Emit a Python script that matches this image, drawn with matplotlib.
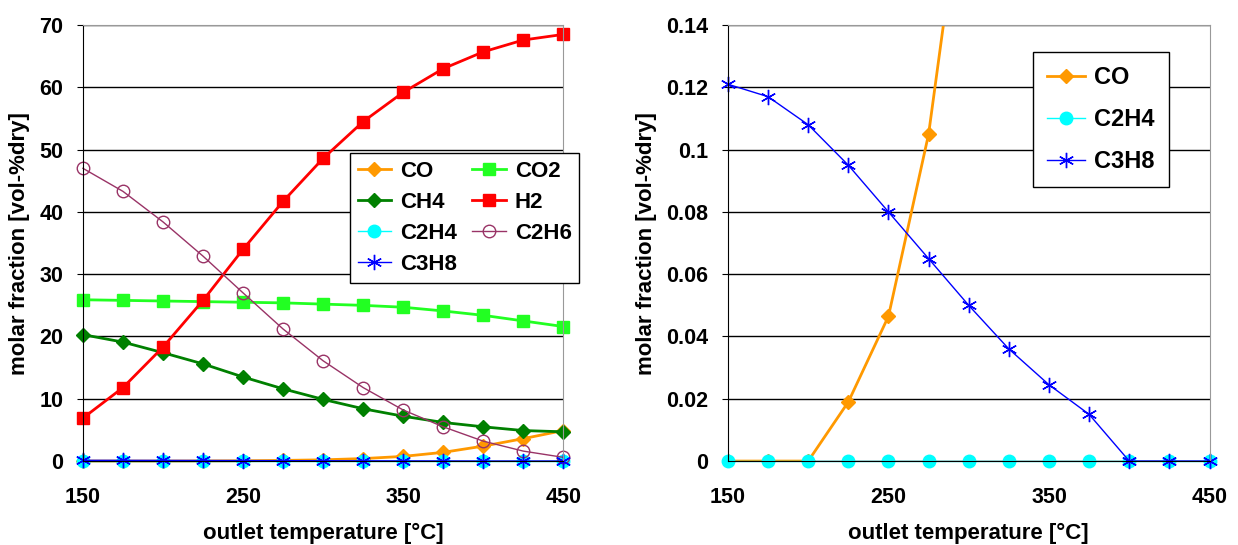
import matplotlib.pyplot as plt
from matplotlib.ticker import FuncFormatter

plt.rcParams['font.family'] = ['Liberation Sans', 'DejaVu Sans']
plt.rcParams['font.weight'] = 'bold'

temps = [150, 175, 200, 225, 250, 275, 300, 325, 350, 375, 400, 425, 450]

co = [0, 0, 0, 0.019, 0.0465, 0.105, 0.2, 0.4, 0.75, 1.4, 2.4, 3.6, 4.9]
co2 = [25.9, 25.8, 25.7, 25.6, 25.5, 25.4, 25.2, 25.0, 24.7, 24.1, 23.4, 22.5, 21.6]
ch4 = [20.3, 19.1, 17.4, 15.6, 13.5, 11.6, 9.9, 8.4, 7.2, 6.2, 5.5, 4.9, 4.7]
h2 = [6.9, 11.8, 18.3, 25.8, 34.0, 41.7, 48.6, 54.5, 59.2, 63.0, 65.7, 67.6, 68.5]
c2h4 = [0, 0, 0, 0, 0, 0, 0, 0, 0, 0, 0, 0, 0]
c2h6 = [47.0, 43.3, 38.4, 32.9, 27.0, 21.2, 16.1, 11.8, 8.2, 5.5, 3.2, 1.6, 0.6]
c3h8 = [0.121, 0.117, 0.108, 0.095, 0.080, 0.065, 0.050, 0.036, 0.0245, 0.015, 0, 0, 0]

asterisk = (6, 2, 0)

styles = {
    'CO': dict(color='#FF9900', marker='D', ms=7, lw=2),
    'CO2': dict(color='#22FF22', marker='s', ms=9, lw=2),
    'CH4': dict(color='#008000', marker='D', ms=7, lw=2),
    'H2': dict(color='#FF0000', marker='s', ms=9, lw=2),
    'C2H4': dict(color='#00FFFF', marker='o', ms=9, lw=1),
    'C2H6': dict(color='#993366', marker='o', ms=9, lw=1, mfc='none'),
    'C3H8': dict(color='#0000FF', marker=asterisk, ms=11, lw=1, mew=1),
}

fig = plt.figure(figsize=(12.38, 5.45), dpi=100)
ax1 = fig.add_axes([0.067, 0.154, 0.388, 0.80])
ax2 = fig.add_axes([0.588, 0.154, 0.389, 0.80])

left_series = [('CO', co), ('CO2', co2), ('CH4', ch4), ('H2', h2),
               ('C2H4', c2h4), ('C2H6', c2h6), ('C3H8', c3h8)]
lines = {}
for name, vals in left_series:
    lines[name], = ax1.plot(temps, vals, label=name, clip_on=False, **styles[name])

ax2.plot(temps, co, label='CO', clip_on=True, **styles['CO'])
ax2.plot(temps, c2h4, label='C2H4', clip_on=False, **styles['C2H4'])
ax2.plot(temps, c3h8, label='C3H8', clip_on=False, **styles['C3H8'])

fmt = FuncFormatter(lambda v, p: '%g' % round(v, 4))

for ax, ymax, step in [(ax1, 70, 10), (ax2, 0.14, 0.02)]:
    ax.set_xlim(150, 450)
    ax.set_ylim(0, ymax)
    ax.set_xticks([150, 250, 350, 450])
    ax.set_yticks([i * step for i in range(int(round(ymax / step)) + 1)])
    ax.yaxis.set_major_formatter(fmt)
    ax.grid(axis='y', color='black', lw=1)
    ax.set_axisbelow(True)
    ax.tick_params(labelsize=15.5, length=4, direction='out', color='black')
    ax.tick_params(axis='x', pad=14.5)
    ax.tick_params(axis='y', pad=10)
    for side in ['top', 'right']:
        ax.spines[side].set_color('#999999')
    for side in ['left', 'bottom']:
        ax.spines[side].set_color('black')
    ax.set_xlabel('outlet temperature [°C]', fontsize=16, fontweight='bold', labelpad=11)
    ax.set_ylabel('molar fraction [vol-%dry]', fontsize=16, fontweight='bold', labelpad=7)

# row-wise order like the original legend
order = ['CO', 'CH4', 'C2H4', 'C3H8', 'CO2', 'H2', 'C2H6']
leg1 = ax1.legend([lines[n] for n in order], order, ncol=2, loc='upper left',
                  bbox_to_anchor=(0.556, 0.706), fontsize=16,
                  frameon=True, fancybox=False, edgecolor='black', framealpha=1,
                  borderpad=0.35, labelspacing=0.45, handlelength=1.5, columnspacing=0.7,
                  handletextpad=0.4, borderaxespad=0)
leg1.get_frame().set_linewidth(1)

leg2 = ax2.legend(loc='upper left', bbox_to_anchor=(0.633, 0.938), fontsize=17,
                  frameon=True, fancybox=False, edgecolor='black', framealpha=1,
                  borderpad=0.6, labelspacing=0.8, handlelength=1.6, handletextpad=0.4,
                  borderaxespad=0)
leg2.get_frame().set_linewidth(1)

plt.savefig('out.png', dpi=100)
